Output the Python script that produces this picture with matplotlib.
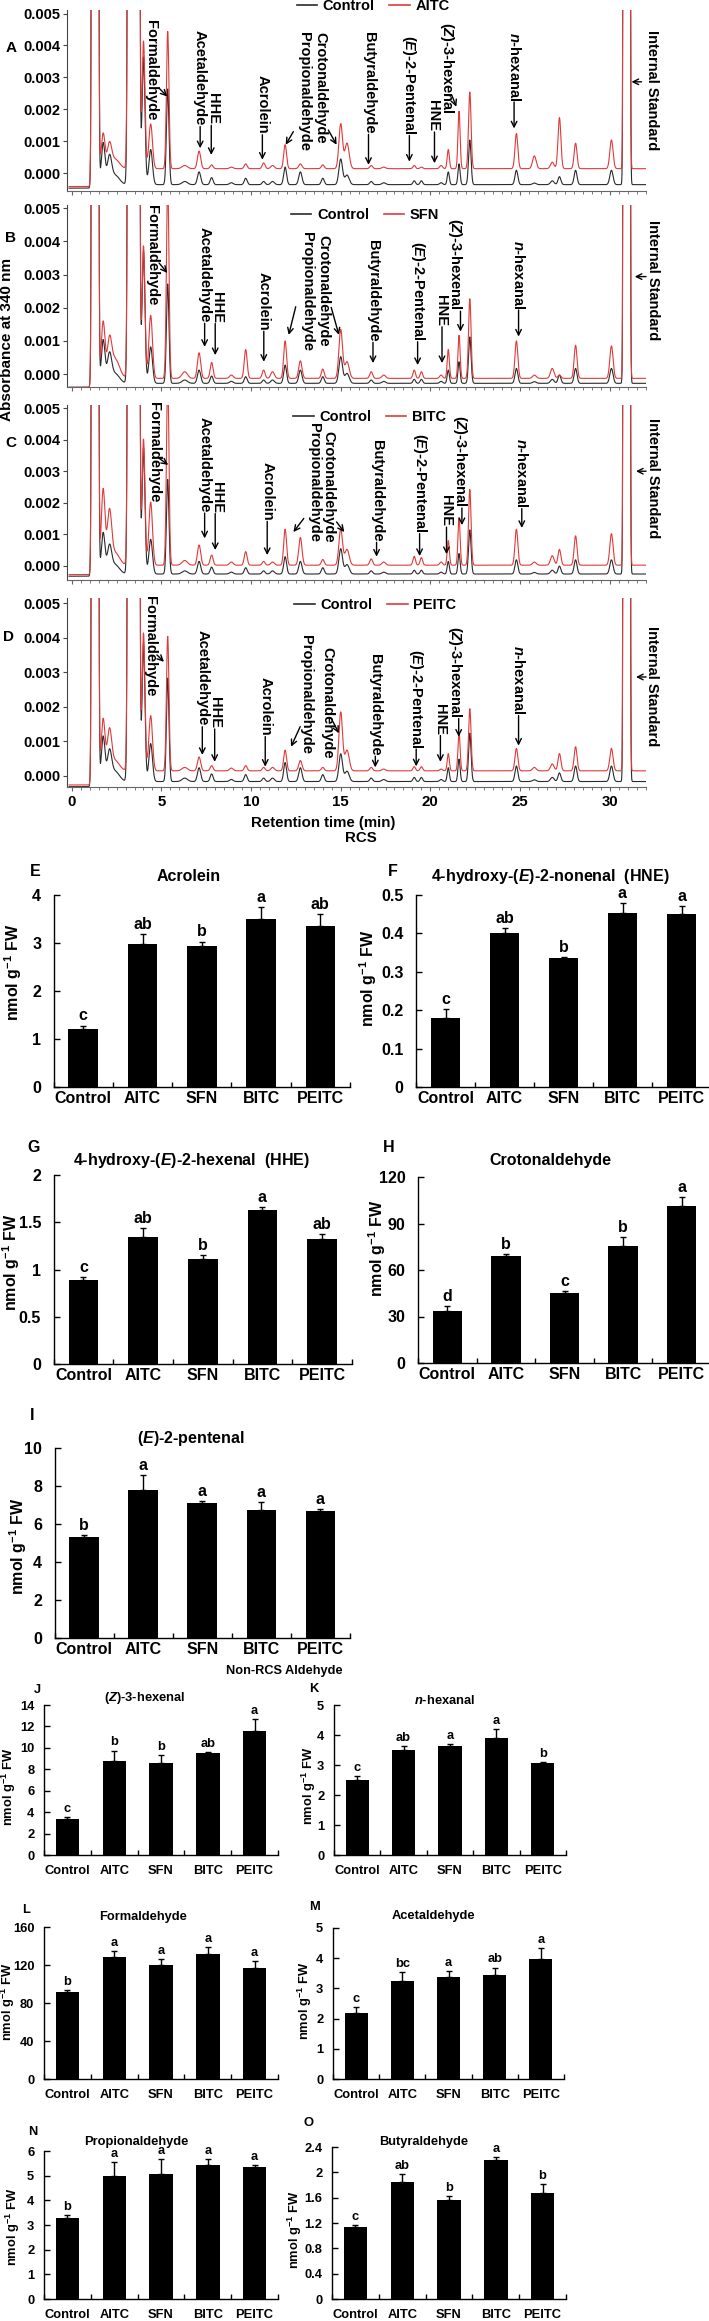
import numpy as np
import matplotlib
matplotlib.use('Agg')
import matplotlib.pyplot as plt
from matplotlib.lines import Line2D
from matplotlib.ticker import MultipleLocator, FormatStrFormatter, FuncFormatter

plt.rcParams['font.family'] = ['Liberation Sans', 'DejaVu Sans']
plt.rcParams['font.weight'] = 'bold'
plt.rcParams['mathtext.fontset'] = 'custom'
plt.rcParams['mathtext.rm'] = 'Liberation Sans:bold'
plt.rcParams['mathtext.bf'] = 'Liberation Sans:bold'
plt.rcParams['mathtext.it'] = 'Liberation Sans:italic:bold'

W, H = 709, 2321

# ---------------- chromatogram peak tables (retention time, min / absorbance) ----------------
peak_rt = [1.3, 1.75, 2.1, 2.4, 3.45, 4.0, 4.4, 5.35, 6.3, 7.1, 7.8, 8.9, 9.7, 10.7, 11.2,
           11.9, 12.75, 14.0, 15.0, 15.35, 16.7, 17.4, 19.1, 19.5, 20.6, 21.0, 21.6, 22.2,
           24.8, 25.8, 26.8, 27.2, 28.1, 30.1, 30.95]
peak_sd = [0.07, 0.1, 0.12, 0.25, 0.1, 0.08, 0.1, 0.07, 0.15, 0.09, 0.08, 0.1, 0.08, 0.08, 0.1,
           0.08, 0.09, 0.08, 0.1, 0.12, 0.08, 0.1, 0.07, 0.07, 0.08, 0.06, 0.06, 0.07,
           0.08, 0.1, 0.1, 0.08, 0.08, 0.09, 0.06]
control_h = [1.0, 0.0013, 0.0008, 0.0003, 5.0, 0.004, 0.0011, 0.003, 0.0001, 0.0004, 0.00022,
             0.00006, 0.0002, 0.0001, 0.0001, 0.00055, 0.0004, 0.0002, 0.0008, 0.0003, 0.0001,
             0.00006, 0.00012, 0.00012, 0.00006, 0.0004, 0.00065, 0.0014, 0.00045, 0.00005,
             0.00012, 0.00025, 0.00045, 0.00045, 5.0]
aitc_h = [1.0, 0.0011, 0.0007, 0.0003, 5.0, 0.004, 0.0014, 0.0043, 0.0001, 0.00055, 0.00012,
          0.00005, 0.00015, 0.00018, 0.0001, 0.00075, 0.00015, 0.00012, 0.0014, 0.0008, 0.0001,
          0.00005, 0.0001, 0.00005, 0.0001, 0.0006, 0.0018, 0.0024, 0.0011, 0.0004,
          0.0002, 0.0016, 0.0008, 0.0009, 5.0]
sfn_h = [1.0, 0.0017, 0.001, 0.0006, 5.0, 0.004, 0.0019, 0.006, 0.0002, 0.00077, 0.00048,
         0.0001, 0.00087, 0.00025, 0.0002, 0.00113, 0.00053, 0.00028, 0.00147, 0.0005, 0.0002,
         0.0001, 0.00025, 0.0002, 0.0001, 0.00087, 0.0013, 0.0024, 0.00113, 0.0001,
         0.0003, 0.0001, 0.001, 0.00098, 5.0]
bitc_h = [1.0, 0.0024, 0.0016, 0.0004, 5.0, 0.004, 0.002, 0.006, 0.00015, 0.00064, 0.00032,
          0.0001, 0.00043, 0.00012, 0.0001, 0.00114, 0.00088, 0.00018, 0.00114, 0.0005, 0.0002,
          0.0001, 0.00028, 0.00024, 0.0001, 0.00078, 0.0015, 0.0024, 0.00114, 0.0001,
          0.0003, 0.0005, 0.00093, 0.001, 5.0]
peitc_h = [1.0, 0.0015, 0.0011, 0.0003, 5.0, 0.004, 0.0016, 0.0039, 0.0001, 0.0004, 0.00015,
           0.00008, 0.00015, 0.0001, 0.0001, 0.0006, 0.0003, 0.0001, 0.0017, 0.0006, 0.0001,
           0.00005, 0.00012, 0.00012, 0.00005, 0.0005, 0.0011, 0.0018, 0.00065, 0.0001,
           0.0002, 0.0005, 0.0007, 0.00065, 5.0]

# baselines before / after injection front
ctrl_base = {'A': (-0.00047, -0.00036), 'B': (-0.0004, -0.00028),
             'C': (-0.00033, -0.00026), 'D': (-0.00032, -0.00017)}
trt_base = {'A': (-0.00042, 0.00014), 'B': (-0.0004, -0.00013),
            'C': (-0.00028, 0.00002), 'D': (-0.00027, 0.00014)}

compound_labels = ['Formaldehyde', 'Acetaldehyde', 'HHE', 'Acrolein', 'Propionaldehyde',
                   'Crotonaldehyde', 'Butyraldehyde', r'($\mathit{E}$)-2-Pentenal', 'HNE',
                   r'($\mathit{Z}$)-3-hexenal', r'$\mathit{n}$-hexanal', 'Internal Standard']

# (text x, text top, tail x, tail y, head x, head y); tail y None -> from text bottom
annot = {
    'A': [(4.44, 0.0048, 4.87, 0.00266, 5.33, 0.0024), (7.12, 0.00448, None, None, 7.16, 0.00078),
          (7.88, 0.0025, None, None, 7.78, 0.00057), (10.63, 0.00307, None, None, 10.63, 0.00042),
          (12.94, 0.00443, 12.36, 0.0013, 11.93, 0.00089), (13.88, 0.00443, 14.31, 0.00135, 14.77, 0.00089),
          (16.55, 0.00443, None, None, 16.55, 0.00026), (18.83, 0.00432, None, None, 18.83, 0.00036),
          (20.13, 0.00229, None, None, 20.23, 0.00031), (20.95, 0.00474, 21.19, 0.00245, 21.45, 0.00208),
          (24.67, 0.00443, None, None, 24.67, 0.0014), (32.34, 0.00448, 31.78, 0.00286, 31.22, 0.00286)],
    'B': [(4.49, 0.0051, 4.87, 0.00335, 5.33, 0.00305), (7.41, 0.00444, None, None, 7.41, 0.00082),
          (8.12, 0.00249, None, None, 8.0, 0.00057), (10.71, 0.00309, None, None, 10.71, 0.00037),
          (13.12, 0.0043, 12.49, 0.00203, 12.1, 0.00118), (14.06, 0.0042, 14.47, 0.00201, 14.9, 0.00118),
          (16.8, 0.00405, None, None, 16.8, 0.00033), (19.29, 0.004, None, None, 19.29, 0.00027),
          (20.6, 0.00239, None, None, 20.65, 0.00033), (21.4, 0.0047, None, None, 21.68, 0.00128),
          (24.92, 0.00405, None, None, 24.92, 0.00113), (32.4, 0.00465, 32.03, 0.00294, 31.4, 0.00294)],
    'C': [(4.57, 0.0052, 4.87, 0.00341, 5.38, 0.0032), (7.41, 0.00473, None, None, 7.41, 0.00087),
          (8.12, 0.00267, None, None, 8.0, 0.0005), (10.9, 0.0033, None, None, 10.9, 0.00034),
          (13.5, 0.00454, 12.94, 0.0015, 12.36, 0.00107), (14.3, 0.00426, 14.77, 0.00139, 15.2, 0.00107),
          (17.0, 0.004, None, None, 17.0, 0.00029), (19.4, 0.0042, None, None, 19.4, 0.00031),
          (20.85, 0.00224, None, None, 20.9, 0.00037), (21.65, 0.00478, None, None, 21.76, 0.00129),
          (25.1, 0.00404, None, None, 25.1, 0.0012), (32.4, 0.0047, 32.03, 0.003, 31.47, 0.003)],
    'D': [(4.37, 0.0052, 4.75, 0.0035, 5.14, 0.0033), (7.28, 0.00421, None, None, 7.28, 0.0006),
          (7.97, 0.00228, None, None, 7.97, 0.0004), (10.79, 0.00286, None, None, 10.79, 0.00026),
          (13.06, 0.00407, 12.74, 0.00142, 12.23, 0.00084), (14.28, 0.00373, 14.47, 0.00166, 14.9, 0.00123),
          (16.93, 0.00354, None, None, 16.93, 0.00024), (19.21, 0.00368, None, None, 19.21, 0.00027),
          (20.56, 0.00209, None, None, 20.56, 0.0004), (21.37, 0.00435, None, None, 21.58, 0.00113),
          (24.92, 0.00378, None, None, 24.92, 0.00087), (32.34, 0.00435, 32.03, 0.00286, 31.47, 0.00286)],
}

# ---------------- bar chart data ----------------
groups = ['Control', 'AITC', 'SFN', 'BITC', 'PEITC']
acrolein_mean = [1.20, 2.97, 2.93, 3.50, 3.36]
acrolein_err = [0.08, 0.21, 0.10, 0.24, 0.25]
acrolein_sig = ['c', 'ab', 'b', 'a', 'ab']
hne_mean = [0.18, 0.402, 0.335, 0.453, 0.45]
hne_err = [0.023, 0.011, 0.004, 0.027, 0.021]
hne_sig = ['c', 'ab', 'b', 'a', 'a']
hhe_mean = [0.89, 1.34, 1.116, 1.634, 1.324]
hhe_err = [0.035, 0.10, 0.035, 0.025, 0.05]
hhe_sig = ['c', 'ab', 'b', 'a', 'ab']
croton_mean = [33.6, 69.3, 45.2, 75.4, 101.4]
croton_err = [3.0, 0.9, 1.3, 6.0, 5.4]
croton_sig = ['d', 'b', 'c', 'b', 'a']
pentenal_mean = [5.33, 7.79, 7.13, 6.74, 6.69]
pentenal_err = [0.1, 0.8, 0.08, 0.43, 0.1]
pentenal_sig = ['b', 'a', 'a', 'a', 'a']
hexenal_mean = [3.36, 8.75, 8.62, 9.53, 11.6]
hexenal_err = [0.22, 1.0, 0.7, 0.1, 1.06]
hexenal_sig = ['c', 'b', 'b', 'ab', 'a']
hexanal_mean = [2.5, 3.49, 3.64, 3.89, 3.08]
hexanal_err = [0.14, 0.14, 0.05, 0.3, 0.02]
hexanal_sig = ['c', 'ab', 'a', 'a', 'b']
formald_mean = [91.5, 127.9, 120.5, 132.0, 117.0]
formald_err = [2.1, 6.6, 6.0, 7.0, 7.3]
formald_sig = ['b', 'a', 'a', 'a', 'a']
acetald_mean = [2.19, 3.23, 3.38, 3.43, 3.97]
acetald_err = [0.18, 0.32, 0.19, 0.26, 0.37]
acetald_sig = ['c', 'bc', 'a', 'ab', 'a']
propion_mean = [3.3, 5.0, 5.07, 5.43, 5.36]
propion_err = [0.1, 0.54, 0.6, 0.23, 0.07]
propion_sig = ['b', 'a', 'a', 'a', 'a']
butyr_mean = [1.14, 1.84, 1.56, 2.2, 1.675]
butyr_err = [0.026, 0.126, 0.06, 0.04, 0.14]
butyr_sig = ['c', 'ab', 'b', 'a', 'b']

fig = plt.figure(figsize=(W / 100, H / 100), dpi=100)


def px_axes(l, t, r, b):
    return fig.add_axes([l / W, 1 - b / H, (r - l) / W, (b - t) / H])


def ftext(x, y, s, **kw):
    kw.setdefault('ha', 'center')
    kw.setdefault('va', 'center')
    return fig.text(x / W, 1 - y / H, s, **kw)


t = np.linspace(-0.15, 32, 3600)


def trace(heights, base):
    y = np.where(t < 1.05, base[0], base[1]).astype(float)
    for r, s, h in zip(peak_rt, peak_sd, heights):
        y = y + h * np.exp(-0.5 * ((t - r) / s) ** 2)
    return y


chrom = [
    ('A', 'AITC', aitc_h, (67.3, 10, 645.5, 190.7), (-0.00055, 0.00511), (11, 48), (0.529, 1.02)),
    ('B', 'SFN', sfn_h, (67.3, 205, 645.5, 387.3), (-0.0004, 0.0051), (11, 238), (0.515, 0.945)),
    ('C', 'BITC', bitc_h, (67.3, 405, 645.5, 580), (-0.00045, 0.0051), (11, 443), (0.523, 0.93)),
    ('D', 'PEITC', peitc_h, (67.3, 598, 645.5, 786.7), (-0.00032, 0.00515), (9, 637), (0.533, 0.963)),
]

red = '#e03a3a'
pending = []
for key, trt, hts, box, ylim, let_pos, leg_pos in chrom:
    ax = px_axes(*box)
    ax.plot(t, trace(control_h, ctrl_base[key]), color='#2b2b2b', lw=0.8)
    ax.plot(t, trace(hts, trt_base[key]), color=red, lw=0.8)
    ax.set_xlim(-0.25, 32)
    ax.set_ylim(*ylim)
    for s in ['top', 'right']:
        ax.spines[s].set_visible(False)
    ax.spines['bottom'].set_color('#666666')
    ax.spines['left'].set_color('#444444')
    ax.yaxis.set_major_locator(MultipleLocator(0.001))
    ax.yaxis.set_major_formatter(FormatStrFormatter('%.3f'))
    ax.xaxis.set_major_locator(MultipleLocator(5))
    ax.xaxis.set_minor_locator(MultipleLocator(0.5))
    ax.tick_params(axis='y', direction='out', length=3, pad=2, labelsize=10.5, color='#444444')
    ax.tick_params(axis='x', which='major', direction='out', length=3, pad=3, labelsize=10.8,
                   color='#666666')
    ax.tick_params(axis='x', which='minor', direction='out', length=2, color='#666666')
    if key != 'D':
        ax.tick_params(axis='x', labelbottom=False)
    handles = [Line2D([], [], color='#2b2b2b', lw=1.2), Line2D([], [], color=red, lw=1.2)]
    ax.legend(handles, ['Control', trt], loc='center', bbox_to_anchor=leg_pos, ncol=2,
              frameon=False, handlelength=1.4, handletextpad=0.4, columnspacing=1.0,
              fontsize=10.5, borderpad=0)
    ftext(let_pos[0], let_pos[1], key, fontsize=11)
    for lab, (tx, ty, ax_, ay_, hx, hy) in zip(compound_labels, annot[key]):
        txt = ax.text(tx, ty, lab, rotation=270, ha='center', va='top', fontsize=10.5,
                      clip_on=False)
        pending.append((ax, txt, ax_, ay_, hx, hy))

ftext(7, 339, 'Absorbance at 340 nm', rotation=90, fontsize=11)
ftext(323, 823, 'Retention time (min)', fontsize=10.8)
ftext(361, 838, 'RCS', fontsize=10.8)

# arrows: tails at text bottoms where not given
fig.canvas.draw()
rend = fig.canvas.get_renderer()
for ax, txt, ax_, ay_, hx, hy in pending:
    if ay_ is None:
        bb = txt.get_window_extent(rend)
        ax_ = hx
        ay_ = ax.transData.inverted().transform((0, bb.y0 - 1))[1]
    ax.annotate('', xy=(hx, hy), xytext=(ax_, ay_),
                arrowprops=dict(arrowstyle='->', color='black', lw=1.0, mutation_scale=10,
                                shrinkA=0, shrinkB=0), annotation_clip=False)

# ---------------- bar charts ----------------
bars = [
    ('E', 'Acrolein', acrolein_mean, acrolein_err, acrolein_sig, (53.6, 895, 350, 1087), 4, 1,
     (35.5, 872), (189, 877), (13.6, 972), 11.5),
    ('F', r'4-hydroxy-($\mathit{E}$)-2-nonenal  (HNE)', hne_mean, hne_err, hne_sig,
     (416, 895, 711, 1087), 0.5, 0.1, (393, 872), (550, 877), (368, 978), 11.5),
    ('G', r'4-hydroxy-($\mathit{E}$)-2-hexenal  (HHE)', hhe_mean, hhe_err, hhe_sig,
     (53.6, 1175, 352, 1364), 2, 0.5, (34, 1148), (191, 1160), (11, 1262), 11.5),
    ('H', 'Crotonaldehyde', croton_mean, croton_err, croton_sig, (418, 1177, 711, 1363), 120, 30,
     (389, 1148), (550, 1160), (377, 1248), 11.5),
    ('I', r'($\mathit{E}$)-2-pentenal', pentenal_mean, pentenal_err, pentenal_sig,
     (54.5, 1448, 350, 1638), 10, 2, (32, 1415), (191, 1438), (18, 1546), 11.5),
    ('J', r'($\mathit{Z}$)-3-hexenal', hexenal_mean, hexenal_err, hexenal_sig,
     (44, 1705, 278, 1855), 14, 2, (37, 1690), (145, 1698), (9, 1787), 9.3),
    ('K', r'$\mathit{n}$-hexanal', hexanal_mean, hexanal_err, hexanal_sig,
     (334, 1705, 566, 1855), 5, 1, (314, 1689), (445, 1700), (309, 1786), 9.3),
    ('L', 'Formaldehyde', formald_mean, formald_err, formald_sig,
     (44, 1927, 278, 2079), 160, 40, (26, 1910), (143, 1917), (8, 2002), 9.3),
    ('M', 'Acetaldehyde', acetald_mean, acetald_err, acetald_sig,
     (333, 1928, 564, 2079), 5, 1, (315, 1907), (433, 1916), (305, 2001), 9.3),
    ('N', 'Propionaldehyde', propion_mean, propion_err, propion_sig,
     (44, 2151, 278, 2299), 6, 1, (33, 2132), (136, 2142), (13, 2227), 9.3),
    ('O', 'Butyraldehyde', butyr_mean, butyr_err, butyr_sig,
     (332, 2147, 566, 2299), 2.4, 0.4, (309, 2123), (424, 2142), (295, 2230), 9.3),
]

xpos = np.arange(len(groups))
for key, title, mean, err, sig, box, ymax, ystep, let_pos, tit_pos, yl_pos, fs in bars:
    ax = px_axes(*box)
    ax.bar(xpos, mean, width=0.5, color='black')
    ax.errorbar(xpos, mean, yerr=[np.zeros(len(err)), err], fmt='none', ecolor='black',
                elinewidth=1.0, capsize=2.5, capthick=1.0)
    for i, (m, e, s) in enumerate(zip(mean, err, sig)):
        ax.annotate(s, (i, m + e), xytext=(0, 1.5), textcoords='offset points',
                    ha='center', va='bottom', fontsize=fs)
    ax.set_xlim(-0.5, 4.5)
    ax.set_ylim(0, ymax)
    for s in ['top', 'right']:
        ax.spines[s].set_visible(False)
    for s in ['left', 'bottom']:
        ax.spines[s].set_linewidth(1.0)
    ax.yaxis.set_major_locator(MultipleLocator(ystep))
    ax.yaxis.set_major_formatter(FuncFormatter(lambda v, p: f'{round(v, 3):g}'))
    ax.set_xticks(xpos)
    ax.set_xticklabels(groups)
    ax.set_xticks(np.arange(-0.5, 5, 1), minor=True)
    big = fs > 10
    ax.tick_params(axis='x', which='major', length=0, labelsize=fs, pad=3 if big else 7)
    ax.tick_params(axis='x', which='minor', direction='in', length=3.5, width=1.0)
    ax.tick_params(axis='y', direction='in', length=4, width=1.0, labelsize=fs,
                   pad=9 if big else 7)
    ftext(let_pos[0], let_pos[1], key, fontsize=fs)
    ftext(tit_pos[0], tit_pos[1], title, fontsize=fs)
    ftext(yl_pos[0], yl_pos[1], r'nmol g$^{-1}$ FW', rotation=90, fontsize=fs)

ftext(284, 1671, 'Non-RCS Aldehyde', fontsize=9.2)

fig.savefig('out.png', dpi=100)
